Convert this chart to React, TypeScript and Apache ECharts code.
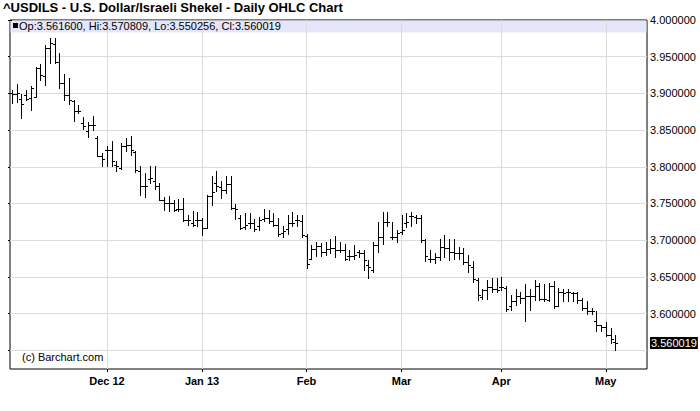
import React, { useEffect, useRef } from "react";
import * as echarts from "echarts";

const chartTitle = "^USDILS - U.S. Dollar/Israeli Shekel - Daily OHLC Chart";
const headerText = "Op:3.561600, Hi:3.570809, Lo:3.550256, Cl:3.560019";
const creditText = "(c) Barchart.com";

const firstDay = "2012-11-05";
const lastDay = "2013-05-03";
const holidays = ["2012-12-25", "2013-01-01"];

const monthNames: Record<string, string> = {
  "2012-12": "Dec 12",
  "2013-01": "Jan 13",
  "2013-02": "Feb",
  "2013-03": "Mar",
  "2013-04": "Apr",
  "2013-05": "May",
};

const opens = [
  3.901, 3.899, 3.892, 3.898, 3.8936, 3.8955, 3.9345, 3.9232, 3.9618, 3.9677,
  3.9427, 3.9141, 3.8982, 3.8891, 3.8755, 3.8595, 3.8482, 3.8573, 3.8391, 3.8141,
  3.8223, 3.8223, 3.8027, 3.7982, 3.8277, 3.83, 3.8195, 3.7936, 3.7732, 3.7832,
  3.78, 3.7732, 3.755, 3.7505, 3.7505, 3.743, 3.743, 3.728, 3.724, 3.728,
  3.728, 3.717, 3.76, 3.778, 3.773, 3.769, 3.776, 3.744, 3.73, 3.718,
  3.724, 3.723, 3.719, 3.729, 3.73, 3.726, 3.721, 3.71, 3.715, 3.723,
  3.727, 3.726, 3.706, 3.675, 3.688, 3.692, 3.684, 3.688, 3.69, 3.686,
  3.687, 3.679, 3.679, 3.684, 3.682, 3.666, 3.659, 3.693, 3.705, 3.725,
  3.705, 3.704, 3.711, 3.723, 3.733, 3.732, 3.73, 3.7, 3.675, 3.674,
  3.677, 3.691, 3.689, 3.684, 3.683, 3.682, 3.67, 3.664, 3.646, 3.623,
  3.632, 3.636, 3.634, 3.636, 3.635, 3.61, 3.617, 3.624, 3.621, 3.624,
  3.624, 3.637, 3.62, 3.618, 3.637, 3.611, 3.629, 3.629, 3.628, 3.628,
  3.618, 3.608, 3.604, 3.59, 3.584, 3.582, 3.571, 3.5616,
];
const highs = [
  3.904, 3.913, 3.8995, 3.905, 3.9095, 3.9359, 3.9405, 3.9664, 3.9755, 3.9755,
  3.955, 3.9268, 3.9209, 3.8914, 3.8845, 3.8677, 3.8605, 3.8695, 3.8414, 3.8186,
  3.8277, 3.8345, 3.8073, 3.8323, 3.8391, 3.8423, 3.8209, 3.8005, 3.7914, 3.8005,
  3.8005, 3.7777, 3.7595, 3.7605, 3.755, 3.7555, 3.758, 3.735, 3.74, 3.738,
  3.7305, 3.761, 3.7873, 3.794, 3.78, 3.787, 3.787, 3.749, 3.735, 3.737,
  3.737, 3.729, 3.732, 3.742, 3.741, 3.737, 3.73, 3.719, 3.735, 3.739,
  3.734, 3.734, 3.708, 3.694, 3.698, 3.696, 3.697, 3.701, 3.706, 3.698,
  3.695, 3.686, 3.693, 3.686, 3.686, 3.673, 3.698, 3.725, 3.739, 3.739,
  3.725, 3.714, 3.734, 3.737, 3.739, 3.735, 3.734, 3.702, 3.686, 3.683,
  3.702, 3.707, 3.702, 3.702, 3.691, 3.689, 3.68, 3.672, 3.648, 3.634,
  3.646, 3.649, 3.649, 3.65, 3.638, 3.626, 3.633, 3.63, 3.64, 3.634,
  3.646, 3.642, 3.64, 3.642, 3.644, 3.635, 3.633, 3.633, 3.63, 3.63,
  3.621, 3.617, 3.608, 3.603, 3.585, 3.589, 3.58, 3.570809,
];
const lows = [
  3.887, 3.888, 3.866, 3.8905, 3.8768, 3.895, 3.9186, 3.9118, 3.9414, 3.9414,
  3.9073, 3.8914, 3.8859, 3.8618, 3.8732, 3.8514, 3.8405, 3.8505, 3.8141, 3.8005,
  3.8014, 3.8005, 3.7936, 3.7968, 3.8209, 3.8164, 3.7923, 3.7618, 3.7595, 3.7777,
  3.7695, 3.755, 3.7414, 3.7391, 3.7391, 3.7395, 3.726, 3.721, 3.719, 3.719,
  3.7077, 3.7164, 3.7486, 3.767, 3.758, 3.764, 3.743, 3.729, 3.715, 3.715,
  3.717, 3.712, 3.714, 3.726, 3.723, 3.719, 3.706, 3.705, 3.708, 3.719,
  3.719, 3.705, 3.662, 3.674, 3.678, 3.679, 3.68, 3.682, 3.677, 3.684,
  3.673, 3.673, 3.675, 3.677, 3.659, 3.648, 3.657, 3.684, 3.695, 3.72,
  3.702, 3.698, 3.709, 3.718, 3.72, 3.723, 3.698, 3.672, 3.67, 3.669,
  3.673, 3.677, 3.673, 3.675, 3.675, 3.668, 3.657, 3.643, 3.619, 3.62,
  3.62, 3.629, 3.629, 3.632, 3.603, 3.605, 3.612, 3.615, 3.59, 3.605,
  3.618, 3.619, 3.617, 3.617, 3.608, 3.61, 3.617, 3.617, 3.617, 3.615,
  3.605, 3.599, 3.599, 3.576, 3.576, 3.569, 3.56, 3.550256,
];
const closes = [
  3.899, 3.901, 3.886, 3.892, 3.907, 3.9345, 3.9255, 3.9618, 3.9686, 3.9427,
  3.9141, 3.8982, 3.8905, 3.8755, 3.8764, 3.855, 3.8573, 3.8573, 3.815, 3.8105,
  3.8223, 3.8073, 3.8005, 3.8277, 3.83, 3.8223, 3.7959, 3.7732, 3.7732, 3.7845,
  3.7732, 3.755, 3.7505, 3.7505, 3.7414, 3.743, 3.728, 3.728, 3.721, 3.728,
  3.717, 3.76, 3.765, 3.774, 3.769, 3.776, 3.744, 3.742, 3.717, 3.721,
  3.723, 3.715, 3.728, 3.73, 3.726, 3.721, 3.708, 3.712, 3.724, 3.723,
  3.727, 3.707, 3.668, 3.688, 3.692, 3.684, 3.688, 3.69, 3.686, 3.686,
  3.674, 3.679, 3.68, 3.682, 3.673, 3.664, 3.693, 3.705, 3.725, 3.725,
  3.704, 3.71, 3.714, 3.725, 3.733, 3.73, 3.7, 3.678, 3.674, 3.677,
  3.691, 3.69, 3.684, 3.683, 3.683, 3.67, 3.666, 3.647, 3.625, 3.632,
  3.636, 3.634, 3.632, 3.636, 3.606, 3.617, 3.624, 3.621, 3.624, 3.624,
  3.637, 3.62, 3.62, 3.637, 3.61, 3.629, 3.628, 3.63, 3.628, 3.618,
  3.608, 3.604, 3.603, 3.584, 3.582, 3.571, 3.565, 3.560019,
];

const yTickValues = [3.55, 3.6, 3.65, 3.7, 3.75, 3.8, 3.85, 3.9, 3.95, 4.0];
const yLabelValues = [3.6, 3.65, 3.7, 3.75, 3.8, 3.85, 3.9, 3.95, 4.0];
const lastClose = 3.560019;

function buildTradingDays(start: string, end: string, skip: string[]): string[] {
  const out: string[] = [];
  const d = new Date(start + "T00:00:00Z");
  const e = new Date(end + "T00:00:00Z");
  while (d <= e) {
    const wd = d.getUTCDay();
    const iso = d.toISOString().slice(0, 10);
    if (wd !== 0 && wd !== 6 && !skip.includes(iso)) out.push(iso);
    d.setUTCDate(d.getUTCDate() + 1);
  }
  return out;
}

const FONT = '"Liberation Sans", Arial, sans-serif';

export default function App() {
  const ref = useRef<HTMLDivElement>(null);

  useEffect(() => {
    if (!ref.current) return;
    const chart = echarts.init(ref.current, undefined, { renderer: "svg" });

    const days = buildTradingDays(firstDay, lastDay, holidays);
    const monthIdx: number[] = [];
    const idxLabel: Record<number, string> = {};
    days.forEach((d, i) => {
      if (i > 0 && d.slice(0, 7) !== days[i - 1].slice(0, 7)) {
        monthIdx.push(i);
        idxLabel[i] = monthNames[d.slice(0, 7)] || "";
      }
    });
    const data = days.map((_, i) => [i, opens[i], highs[i], lows[i], closes[i]]);

    const option: any = {
      animation: false,
      backgroundColor: "#ffffff",
      grid: {
        left: 10,
        right: 53,
        top: 20,
        bottom: 42,
        show: true,
        borderColor: "#000",
        borderWidth: 1,
        backgroundColor: "transparent",
        containLabel: false,
        outerBoundsMode: "none",
      },
      xAxis: {
        type: "value",
        min: -0.42,
        max: days.length - 1 + 6.68,
        axisLine: { show: false },
        splitLine: { show: false },
        axisTick: {
          show: true,
          customValues: monthIdx,
          length: 3,
          lineStyle: { color: "#000" },
        },
        axisLabel: {
          customValues: monthIdx,
          formatter: (v: number) => idxLabel[Math.round(v)] || "",
          fontWeight: "bold",
          fontSize: 11,
          fontFamily: FONT,
          color: "#000",
          margin: 6,
        },
      },
      yAxis: {
        type: "value",
        position: "right",
        min: 3.5245,
        max: 4.0,
        axisLine: { show: false },
        splitLine: { show: false },
        axisTick: {
          show: true,
          inside: true,
          length: 4,
          customValues: yTickValues,
          lineStyle: { color: "#000" },
        },
        axisLabel: {
          customValues: [...yLabelValues, lastClose],
          formatter: (v: number) =>
            Math.abs(v - lastClose) < 1e-7 ? "{last|" + v.toFixed(6) + "}" : v.toFixed(6),
          rich: {
            last: {
              backgroundColor: "#000",
              color: "#fff",
              fontSize: 11,
              fontFamily: FONT,
              padding: [1, 1, 0, 1],
            },
          },
          fontSize: 11,
          fontFamily: FONT,
          color: "#000",
          margin: 3,
        },
      },
      series: [
        {
          type: "line",
          data: [],
          z: 1,
          silent: true,
          markLine: {
            z: 1,
            silent: true,
            symbol: "none",
            animation: false,
            label: { show: false },
            lineStyle: { color: "#dcdcdc", type: "solid", width: 1 },
            data: [
              ...yTickValues.filter((v) => v < 4).map((v) => ({ yAxis: v })),
              ...monthIdx.map((i) => ({ xAxis: i })),
            ],
          },
        },
        {
          type: "custom",
          z: 5,
          data,
          encode: { x: 0, y: [1, 2, 3, 4] },
          renderItem: (params: any, api: any) => {
            const i = api.value(0);
            const o = api.coord([i, api.value(1)]);
            const h = api.coord([i, api.value(2)]);
            const l = api.coord([i, api.value(3)]);
            const c = api.coord([i, api.value(4)]);
            const x = Math.round(h[0]) + 0.5;
            const oy = Math.round(o[1]) + 0.5;
            const cy = Math.round(c[1]) + 0.5;
            const style = { stroke: "#000", lineWidth: 1 };
            return {
              type: "group",
              children: [
                { type: "line", shape: { x1: x, y1: Math.round(h[1]), x2: x, y2: Math.round(l[1]) + 1 }, style },
                { type: "line", shape: { x1: x - 2.5, y1: oy, x2: x, y2: oy }, style },
                { type: "line", shape: { x1: x, y1: cy, x2: x + 2.5, y2: cy }, style },
              ],
            };
          },
        },
      ],
      graphic: [
        {
          type: "rect",
          z: 0,
          silent: true,
          shape: { x: 10.5, y: 20.5, width: 636, height: 12 },
          style: { fill: "#e6e6fa" },
        },
        {
          type: "rect",
          z: 10,
          silent: true,
          shape: { x: 13, y: 23, width: 5, height: 5 },
          style: { fill: "#000" },
        },
        {
          type: "text",
          z: 10,
          left: 19,
          top: 20,
          style: { text: headerText, font: "11px " + FONT, fill: "#000" },
        },
        {
          type: "text",
          z: 10,
          left: 3,
          top: 1,
          style: { text: chartTitle, font: "bold 13px " + FONT, fill: "#000" },
        },
        {
          type: "text",
          z: 10,
          left: 22,
          top: 351,
          style: { text: creditText, font: "11px " + FONT, fill: "#000" },
        },
      ],
    };

    chart.setOption(option);
    return () => chart.dispose();
  }, []);

  return (
    <div
      ref={ref}
      style={{ position: "fixed", left: 0, top: 0, width: 700, height: 411, background: "#fff" }}
    />
  );
}
